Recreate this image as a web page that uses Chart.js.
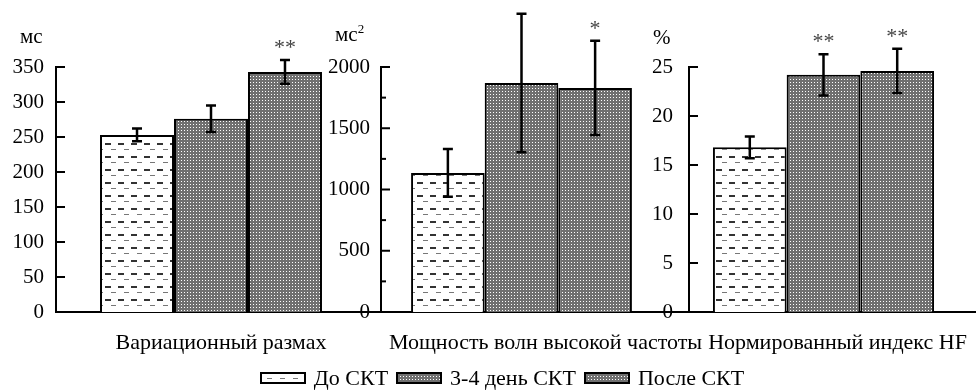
<!DOCTYPE html>
<html>
<head>
<meta charset="utf-8">
<script src="https://cdn.jsdelivr.net/npm/chart.js@4"></script>
<style>
  body { margin: 0; background: #fff; font-family: "Liberation Serif", serif; }
  #wrap { position: relative; width: 976px; height: 390px; }
  #wrap canvas.panel { position: absolute; left: 0; top: 0; }
  .unit { position: absolute; font-size: 21px; line-height: 24px; color: #000; }
  .unit sup { font-size: 13px; line-height: 0; }
  #legend { position: absolute; left: 14px; top: 365px; width: 976px; display: flex; justify-content: center; align-items: center; font-size: 22px; line-height: 26px; }
  #legend canvas { margin: 0 8px 0 8px; }
  #legend canvas:first-child { margin-left: 0; }
</style>
</head>
<body>
<div id="wrap">
  <canvas class="panel" id="p1" width="976" height="390"></canvas>
  <canvas class="panel" id="p2" width="976" height="390"></canvas>
  <canvas class="panel" id="p3" width="976" height="390"></canvas>
  <span class="unit" style="left:20px;top:24px">мс</span>
  <span class="unit" style="left:335px;top:22px">мс<sup>2</sup></span>
  <span class="unit" style="left:653px;top:25px">%</span>
  <div id="legend"></div>
</div>
<script>
// Показатели по трём панелям
const categories = ["Вариационный размах", "Мощность волн высокой частоты", "Нормированный индекс HF"];
const seriesNames = ["До СКТ", "3-4 день СКТ", "После СКТ"];
const doSkt = [253, 1135, 16.8];
const den34 = [276, 1869, 24.2];
const posleSkt = [343, 1829, 24.6];
const errDo = [9, 195, 1.1];
const err34 = [19, 565, 2.1];
const errPosle = [17, 385, 2.25];
const stars34 = ["", "", "**"];
const starsPosle = ["**", "*", "**"];
const yMax = [350, 2000, 25];
const yLabelStep = [50, 500, 5];

// раскладка панелей: ось Y, правый край, доля группы, сдвиг подписи, отступ меток
const layoutPanels = [
  { left: 56, right: 366, cat: 0.716, extend: 381, shift: 10, gap: 12 },
  { left: 381, right: 662, cat: 0.786, extend: 689, shift: 24, gap: 11 },
  { left: 689, right: 958, cat: 0.822, extend: 976, shift: 14, gap: 16 },
];

function tileDash() {
  const c = document.createElement("canvas");
  c.width = 13; c.height = 13;
  const g = c.getContext("2d");
  g.fillStyle = "#fff"; g.fillRect(0, 0, 13, 13);
  g.fillStyle = "#333"; g.fillRect(1, 0, 6, 2);
  g.fillStyle = "#777"; g.fillRect(7, 6, 5, 1);
  return c;
}
function tileDots() {
  const c = document.createElement("canvas");
  c.width = 3; c.height = 3;
  const g = c.getContext("2d");
  g.fillStyle = "#707070"; g.fillRect(0, 0, 3, 3);
  g.fillStyle = "#fff"; g.fillRect(1, 1, 1, 1);
  return c;
}
const tmp = document.createElement("canvas").getContext("2d");
const patDash = tmp.createPattern(tileDash(), "repeat");
const patDots = tmp.createPattern(tileDots(), "repeat");
const fills = [patDash, patDots, patDots];
const errors = [errDo, err34, errPosle];
const stars = [["", "", ""], stars34, starsPosle];

const extrasPlugin = {
  id: "extras",
  afterDatasetsDraw(chart, args, opts) {
    const ctx = chart.ctx;
    const y = chart.scales.y;
    const area = chart.chartArea;
    const k = opts.panel;
    ctx.save();
    ctx.strokeStyle = "#000";
    ctx.lineWidth = 2.5;
    chart.data.datasets.forEach((ds, i) => {
      const bar = chart.getDatasetMeta(i).data[0];
      const v = ds.data[0];
      const e = errors[i][k];
      const top = y.getPixelForValue(v + e);
      const bot = y.getPixelForValue(v - e);
      ctx.beginPath();
      ctx.moveTo(bar.x, top); ctx.lineTo(bar.x, bot);
      ctx.moveTo(bar.x - 5, top); ctx.lineTo(bar.x + 5, top);
      ctx.moveTo(bar.x - 5, bot); ctx.lineTo(bar.x + 5, bot);
      ctx.stroke();
      if (stars[i][k]) {
        ctx.fillStyle = "#444";
        ctx.font = "22px 'Liberation Serif'";
        ctx.textAlign = "center";
        ctx.textBaseline = "alphabetic";
        ctx.fillText(stars[i][k], bar.x, top - 6);
      }
    });
    // засечки оси Y внутрь
    ctx.lineWidth = 2;
    y.ticks.forEach((t) => {
      const py = y.getPixelForValue(t.value);
      const len = t.value % yLabelStep[k] === 0 ? 9 : 5;
      ctx.beginPath();
      ctx.moveTo(area.left, py); ctx.lineTo(area.left + len, py);
      ctx.stroke();
    });
    // продолжение базовой линии
    const py0 = y.getPixelForValue(0);
    ctx.beginPath();
    ctx.moveTo(area.right, py0); ctx.lineTo(opts.extend, py0);
    ctx.stroke();
    ctx.restore();
  },
};

const values = [doSkt, den34, posleSkt];

layoutPanels.forEach((lp, k) => {
  new Chart(document.getElementById("p" + (k + 1)), {
    type: "bar",
    data: {
      labels: [categories[k]],
      datasets: seriesNames.map((name, i) => ({
        label: name,
        data: [values[i][k]],
        backgroundColor: fills[i],
        borderColor: "#000",
        borderWidth: 2,
        borderSkipped: "bottom",
      })),
    },
    options: {
      responsive: false,
      animation: false,
      devicePixelRatio: 1,
      events: [],
      categoryPercentage: lp.cat,
      barPercentage: 1,
      layout: { padding: { top: 67, left: 0, right: 976 - lp.right, bottom: 0 } },
      plugins: {
        legend: { display: false },
        tooltip: { enabled: false },
        extras: { panel: k, extend: lp.extend },
      },
      scales: {
        x: {
          type: "category",
          afterFit: (axis) => { axis.height = 78; },
          grid: { display: false },
          border: { display: true, color: "#000", width: 2 },
          ticks: { color: "#000", padding: 10, labelOffset: lp.shift, font: { family: "Liberation Serif", size: 22 } },
        },
        y: {
          min: 0,
          max: yMax[k],
          afterFit: (axis) => { axis.width = lp.left; },
          grid: { display: false },
          border: { display: true, color: "#000", width: 2 },
          ticks: {
            stepSize: yLabelStep[k] / 2,
            color: "#000",
            padding: lp.gap - 8,
            font: { family: "Liberation Serif", size: 21 },
            callback: (v) => (v % yLabelStep[k] === 0 ? v : ""),
          },
        },
      },
    },
    plugins: [extrasPlugin],
  });
});

// легенда
const legend = document.getElementById("legend");
seriesNames.forEach((name, i) => {
  const c = document.createElement("canvas");
  c.width = 46; c.height = 12;
  const g = c.getContext("2d");
  g.fillStyle = g.createPattern(i === 0 ? tileDash() : tileDots(), "repeat");
  g.fillRect(0, 0, 46, 12);
  g.strokeStyle = "#000"; g.lineWidth = 2;
  g.strokeRect(1, 1, 44, 10);
  legend.appendChild(c);
  const s = document.createElement("span");
  s.textContent = name;
  legend.appendChild(s);
});
</script>
</body>
</html>
